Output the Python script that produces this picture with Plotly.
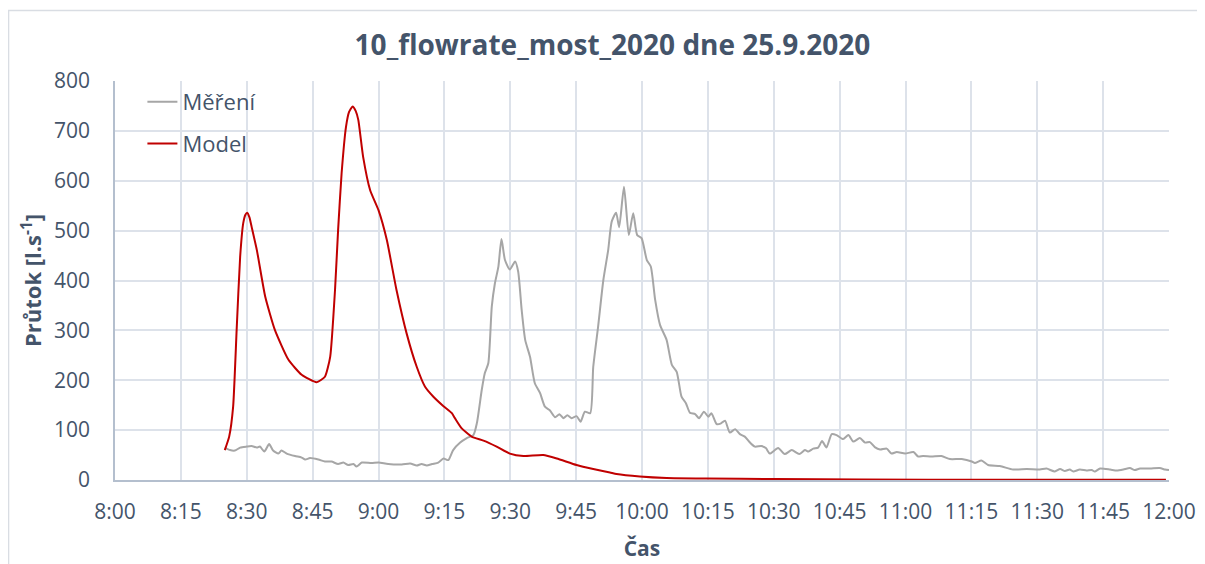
import pandas as pd
import plotly.graph_objects as go

# minutes after 8:00 and flow [l/s]
mereni_min = [25, 26.2, 27.3, 28.5, 30.0, 31.1, 32.3, 33.0, 34.0, 35.1, 36.0, 37.2, 37.9, 39.1,
              41.0, 42.5, 43.3, 44.4, 46.3, 47.8, 49.3, 50.8, 52.0, 53.1, 54.3, 55.0, 56.2,
              58.4, 60.0, 62.2, 65.3, 67.2, 68.7, 69.8, 71.0, 72.2, 73.6, 74.8, 75.9, 77.0,
              78.6, 80.1, 81.6, 82.4, 83.5, 84.2, 85.0, 85.8, 86.5, 87.3, 88.0, 88.8, 89.9,
              91.1, 91.8, 92.6, 93.4, 94.5, 95.6, 96.8, 97.9, 99.0, 100.2, 101.2, 102.1,
              103.0, 104.0, 105.1, 106.0, 107.0, 108.2, 108.9, 110.0, 111.2, 112.3, 113.1,
              114.1, 114.8, 115.9, 117.0, 118.0, 118.9, 119.9, 121.1, 122.0, 123.0, 124.1,
              125.6, 126.8, 127.9, 129.0, 130.0, 130.9, 132.1, 133.0, 134.1, 135.1, 135.8,
              137.0, 137.9, 138.9, 140.0, 141.2, 142.3, 143.4, 144.6, 145.7, 147.2, 148.2,
              149.1, 151.0, 152.5, 154.1, 155.8, 157.1, 157.9, 159.0, 160.1, 161.0, 162.0,
              163.2, 164.3, 165.8, 167.0, 168.1, 169.6, 170.8, 171.9, 173.0, 174.2, 175.7,
              176.8, 178.0, 179.9, 181.8, 182.9, 184.0, 185.9, 188.2, 190.1, 192.8, 195.1,
              195.8, 197.3, 198.8, 201.5, 204.5, 207.6, 210.6, 212.1, 214.0, 215.2, 216.3,
              217.4, 218.2, 219.7, 221.2, 222.4, 223.1, 224.3, 226.6, 228.1, 229.6, 231.1,
              232.2, 233.4, 235.7, 237.9, 239.1, 240.0]
mereni_q = [65, 60, 59, 65, 67, 68, 65, 67, 57, 72, 59, 53, 59, 53,
            48, 45, 41, 44, 41, 37, 37, 32, 35, 30, 32, 27, 35,
            34, 35, 32, 31, 33, 29, 32, 29, 32, 35, 43, 40, 60,
            75, 84, 90, 114, 180, 214, 234, 348, 394, 428, 483, 441, 422,
            438, 418, 341, 281, 247, 194, 174, 147, 140, 126, 132, 124,
            130, 124, 128, 117, 137, 134, 227, 307, 401, 461, 518,
            536, 507, 588, 491, 535, 491, 485, 441, 428, 361, 311,
            281, 231, 217, 167, 154, 135, 132, 124, 137, 127, 134,
            112, 113, 119, 95, 102, 92, 87, 75, 67, 68, 64,
            53, 64, 52, 60, 52, 60, 57, 63, 65, 78, 65,
            92, 90, 82, 90, 77, 84, 75, 76, 66, 61, 63,
            53, 56, 53, 56, 47, 48, 47, 48, 42, 42, 37,
            34, 39, 30, 28, 21, 22, 21, 23, 17, 22, 18,
            21, 17, 21, 19, 20, 17, 23, 21, 19, 21, 24,
            20, 23, 23, 24, 21, 20]

model_min = [25.0, 26.0, 26.9, 27.7, 28.5, 29.2, 29.7, 30.1, 30.6, 31.1, 32.3, 34.2, 36.4,
             39.5, 42.5, 45.9, 47.8, 49.0, 50.1, 50.8, 51.6, 52.6, 53.3, 54.1, 54.8, 55.4,
             56.5, 58.1, 60.0, 61.9, 64.1, 66.4, 68.7, 70.6, 72.5, 74.8, 76.7, 77.4, 78.9,
             81.2, 83.9, 86.9, 89.9, 93.0, 97.5, 100.6, 105.1, 108.9, 112.7, 114.2, 119.5,
             125.6, 134.7, 150, 170, 200, 239.3]
model_q = [60, 87, 147, 301, 448, 515, 532, 536, 527, 508, 461, 368, 301,
           241, 211, 196, 207, 247, 381, 501, 615, 708, 738, 749, 740, 722,
           648, 581, 541, 481, 381, 294, 227, 187, 167, 148, 134, 124, 104,
           87, 79, 67, 53, 48, 50, 43, 30, 22, 15, 12, 7,
           4, 3, 2, 1, 0.5, 0.3]

base = pd.Timestamp("2020-09-25 08:00")
x_mereni = base + pd.to_timedelta(mereni_min, unit="min")
x_model = base + pd.to_timedelta(model_min, unit="min")

txt = "#44546A"
grid = "#dde2ea"

fig = go.Figure()
fig.add_trace(go.Scatter(x=x_mereni, y=mereni_q, name="Měření", mode="lines",
                         line=dict(color="#a6a6a6", width=2, shape="spline", smoothing=0.6),
                         legendgroup="a"))
fig.add_trace(go.Scatter(x=x_model, y=model_q, name="Model", mode="lines",
                         line=dict(color="#c00000", width=2, shape="spline", smoothing=0.5),
                         legendgroup="b"))

# page body has an 8px margin, so the figure is a bit smaller than the window
fig.update_layout(
    width=1197, height=556,
    margin=dict(l=107, r=36, t=73, b=84),
    paper_bgcolor="white", plot_bgcolor="white",
    font=dict(family="Open Sans", color=txt, size=21),
    title=dict(text="<b>10_flowrate_most_2020 dne 25.9.2020</b>", x=0.505, xanchor="center",
               y=0.933, yanchor="middle", font=dict(size=28, color=txt)),
    legend=dict(x=0.026, y=1.0, xanchor="left", yanchor="top", bgcolor="rgba(0,0,0,0)",
                font=dict(size=22, color=txt), tracegroupgap=10),
    showlegend=True,
)

fig.update_xaxes(
    type="date", range=[base, base + pd.Timedelta(minutes=240)],
    dtick=15 * 60 * 1000, tick0=base, tickformat="%-H:%M",
    showgrid=True, gridcolor=grid, gridwidth=1.5,
    showline=True, linecolor="#b4bfce", linewidth=1.5,
    zeroline=False, ticks="", ticklabelstandoff=12, automargin=False,
    title=dict(text="<b>Čas</b>", font=dict(size=21, color=txt), standoff=17),
)
fig.update_yaxes(
    range=[0, 800], dtick=100,
    showgrid=True, gridcolor=grid, gridwidth=1.5,
    showline=True, linecolor="#b4bfce", linewidth=1.5,
    zeroline=False, ticks="", ticklabelstandoff=19, automargin=False,
    title=dict(text="<b>Průtok [l.s<sup>-1</sup>]</b>", font=dict(size=22, color=txt), standoff=6),
)

# chart frame (partly outside the window, as in the reference)
fig.add_shape(type="rect", xref="paper", yref="paper",
              x0=-0.101, x1=1.1, y0=-0.4, y1=1.1767,
              line=dict(color="#d9dde3", width=1.5), fillcolor="rgba(0,0,0,0)")

fig.write_html("out.html")
